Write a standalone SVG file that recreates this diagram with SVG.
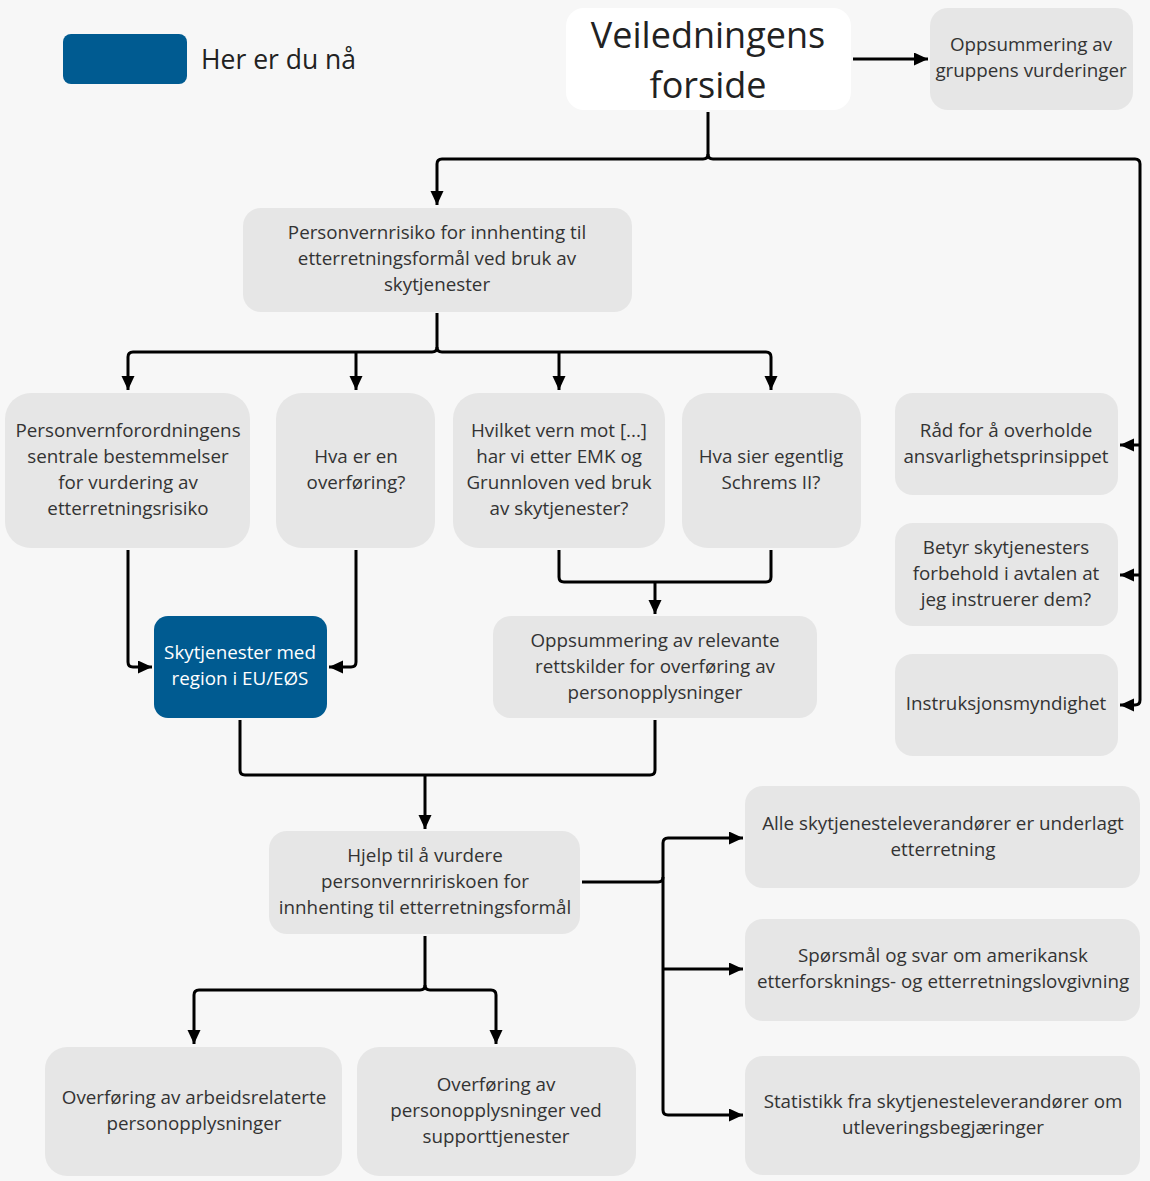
<svg xmlns="http://www.w3.org/2000/svg" width="1150" height="1181" viewBox="0 0 1150 1181">
<defs>
<marker id="ah" markerUnits="userSpaceOnUse" markerWidth="16" markerHeight="14" refX="14" refY="6.5" orient="auto">
<path d="M0,0 L14,6.5 L0,13 z" fill="#000"/>
</marker>
<style>
.bg{fill:#f7f7f7}
.n{fill:#e6e6e6}
.w{fill:#ffffff}
.b{fill:#005b91}
.t{font-family:"Open Sans","Noto Sans","Liberation Sans",sans-serif;font-size:18.8px;fill:#333;text-anchor:middle;dominant-baseline:central}
.tw{fill:#ffffff}
.big{font-size:36px;fill:#222}
.c{fill:none;stroke:#000;stroke-width:3;stroke-linejoin:round}
.a{marker-end:url(#ah)}
</style>
</defs>
<rect class="bg" x="0" y="0" width="1150" height="1181"/>

<g id="legend">
<rect class="b" x="63" y="34" width="124" height="50" rx="8"/>
<text class="t" x="201" y="59" style="text-anchor:start;font-size:26.5px;fill:#222">Her er du nå</text>
</g>

<g id="connectors">
<path class="c a" d="M853,59 H928"/>
<path class="c a" d="M708,112 V154 Q708,159 703,159 H442 Q437,159 437,164 V205"/>
<path class="c a" d="M708,154 Q708,159 713,159 H1135 Q1140,159 1140,164 V700 Q1140,705 1135,705 H1120"/>
<path class="c a" d="M1140,445 H1120"/>
<path class="c a" d="M1140,575 H1120"/>
<path class="c a" d="M437,313 V347 Q437,352 432,352 H133 Q128,352 128,357 V390"/>
<path class="c a" d="M437,347 Q437,352 442,352 H766 Q771,352 771,357 V390"/>
<path class="c a" d="M356,352 V390"/>
<path class="c a" d="M559,352 V390"/>
<path class="c a" d="M128,550 V662 Q128,667 133,667 H152"/>
<path class="c a" d="M356,550 V662 Q356,667 351,667 H329"/>
<path class="c" d="M559,550 V577 Q559,582 564,582 H766 Q771,582 771,577 V550"/>
<path class="c a" d="M655,582 V614"/>
<path class="c" d="M240,720 V770 Q240,775 245,775 H650 Q655,775 655,770 V720"/>
<path class="c a" d="M425,775 V829"/>
<path class="c a" d="M582,882 H658 Q663,882 663,877 V843 Q663,838 668,838 H743"/>
<path class="c a" d="M663,877 V1110 Q663,1115 668,1115 H743"/>
<path class="c a" d="M663,969 H743"/>
<path class="c a" d="M425,936 V985 Q425,990 420,990 H199 Q194,990 194,995 V1044"/>
<path class="c a" d="M425,985 Q425,990 430,990 H491 Q496,990 496,995 V1044"/>
</g>

<g id="n-forside">
<rect class="w" x="566" y="8" width="285" height="102" rx="18"/>
<text class="t big" x="708" y="34">Veiledningens</text>
<text class="t big" x="708" y="84">forside</text>
</g>

<g id="n-oppsummering-gruppe">
<rect class="n" x="930" y="8" width="203" height="102" rx="18"/>
<text class="t" x="1031" y="44">Oppsummering av</text>
<text class="t" x="1031" y="70">gruppens vurderinger</text>
</g>

<g id="n-personvernrisiko">
<rect class="n" x="243" y="208" width="389" height="104" rx="18"/>
<text class="t" x="437" y="232">Personvernrisiko for innhenting til</text>
<text class="t" x="437" y="258">etterretningsformål ved bruk av</text>
<text class="t" x="437" y="284">skytjenester</text>
</g>

<g id="n-personvernforordningens">
<rect class="n" x="5" y="393" width="245" height="155" rx="26"/>
<text class="t" x="128" y="430">Personvernforordningens</text>
<text class="t" x="128" y="456">sentrale bestemmelser</text>
<text class="t" x="128" y="482">for vurdering av</text>
<text class="t" x="128" y="508">etterretningsrisiko</text>
</g>

<g id="n-hva-er-overforing">
<rect class="n" x="276" y="393" width="159" height="155" rx="26"/>
<text class="t" x="356" y="456">Hva er en</text>
<text class="t" x="356" y="482">overføring?</text>
</g>

<g id="n-hvilket-vern">
<rect class="n" x="453" y="393" width="212" height="155" rx="26"/>
<text class="t" x="559" y="430">Hvilket vern mot [...]</text>
<text class="t" x="559" y="456">har vi etter EMK og</text>
<text class="t" x="559" y="482">Grunnloven ved bruk</text>
<text class="t" x="559" y="508">av skytjenester?</text>
</g>

<g id="n-schrems">
<rect class="n" x="682" y="393" width="179" height="155" rx="26"/>
<text class="t" x="771" y="456">Hva sier egentlig</text>
<text class="t" x="771" y="482">Schrems II?</text>
</g>

<g id="n-rad">
<rect class="n" x="895" y="393" width="223" height="102" rx="18"/>
<text class="t" x="1006" y="430">Råd for å overholde</text>
<text class="t" x="1006" y="456">ansvarlighetsprinsippet</text>
</g>

<g id="n-betyr">
<rect class="n" x="895" y="523" width="223" height="103" rx="18"/>
<text class="t" x="1006" y="547">Betyr skytjenesters</text>
<text class="t" x="1006" y="573">forbehold i avtalen at</text>
<text class="t" x="1006" y="599">jeg instruerer dem?</text>
</g>

<g id="n-instruksjon">
<rect class="n" x="895" y="654" width="223" height="102" rx="18"/>
<text class="t" x="1006" y="703">Instruksjonsmyndighet</text>
</g>

<g id="n-skytjenester-eu">
<rect class="b" x="154" y="616" width="173" height="102" rx="14"/>
<text class="t tw" x="240" y="652">Skytjenester med</text>
<text class="t tw" x="240" y="678">region i EU/EØS</text>
</g>

<g id="n-oppsummering-rettskilder">
<rect class="n" x="493" y="616" width="324" height="102" rx="18"/>
<text class="t" x="655" y="640">Oppsummering av relevante</text>
<text class="t" x="655" y="666">rettskilder for overføring av</text>
<text class="t" x="655" y="692">personopplysninger</text>
</g>

<g id="n-hjelp">
<rect class="n" x="269" y="831" width="311" height="103" rx="18"/>
<text class="t" x="425" y="855">Hjelp til å vurdere</text>
<text class="t" x="425" y="881">personvernririskoen for</text>
<text class="t" x="425" y="907">innhenting til etterretningsformål</text>
</g>

<g id="n-alle">
<rect class="n" x="745" y="786" width="395" height="102" rx="18"/>
<text class="t" x="943" y="823">Alle skytjenesteleverandører er underlagt</text>
<text class="t" x="943" y="849">etterretning</text>
</g>

<g id="n-sporsmal">
<rect class="n" x="745" y="919" width="395" height="102" rx="18"/>
<text class="t" x="943" y="955">Spørsmål og svar om amerikansk</text>
<text class="t" x="943" y="981">etterforsknings- og etterretningslovgivning</text>
</g>

<g id="n-statistikk">
<rect class="n" x="745" y="1056" width="395" height="119" rx="18"/>
<text class="t" x="943" y="1101">Statistikk fra skytjenesteleverandører om</text>
<text class="t" x="943" y="1127">utleveringsbegjæringer</text>
</g>

<g id="n-arbeidsrelaterte">
<rect class="n" x="45" y="1047" width="297" height="129" rx="22"/>
<text class="t" x="194" y="1097">Overføring av arbeidsrelaterte</text>
<text class="t" x="194" y="1123">personopplysninger</text>
</g>

<g id="n-supporttjenester">
<rect class="n" x="357" y="1047" width="279" height="129" rx="22"/>
<text class="t" x="496" y="1084">Overføring av</text>
<text class="t" x="496" y="1110">personopplysninger ved</text>
<text class="t" x="496" y="1136">supporttjenester</text>
</g>
</svg>
